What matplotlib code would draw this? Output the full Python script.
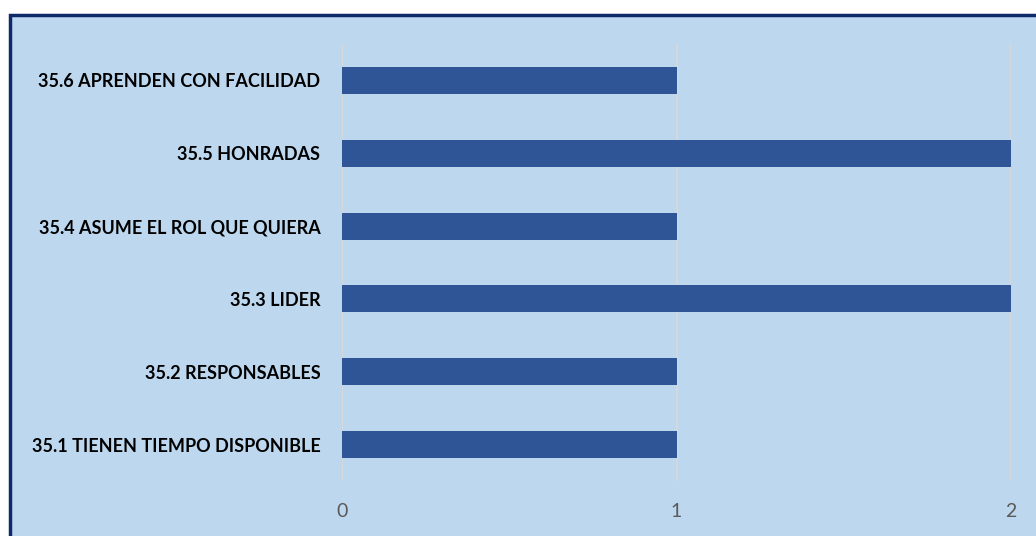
import matplotlib
matplotlib.use("Agg")
import matplotlib.pyplot as plt
from matplotlib.patches import Rectangle

categories = ["35.1 TIENEN TIEMPO DISPONIBLE", "35.2 RESPONSABLES", "35.3 LIDER",
              "35.4 ASUME EL ROL QUE QUIERA", "35.5 HONRADAS", "35.6 APRENDEN CON FACILIDAD"]
values = [1, 1, 2, 1, 2, 1]
xticks = [0, 1, 2]

fig = plt.figure(figsize=(10.36, 5.36), dpi=100)
fig.patch.set_facecolor("white")
W, H = 1036, 536
# chart area with navy border
bg = Rectangle((9.5 / W, -0.05), 1.1, (536 - 15) / H + 0.05,
               transform=fig.transFigure, facecolor="#BDD7EE",
               edgecolor="#0E2A6B", linewidth=2.5, zorder=-10)
fig.add_artist(bg)

ax = fig.add_axes([342 / W, 1 - 481 / H, (1011 - 342) / W, (481 - 44) / H])
ax.set_zorder(1)
ax.set_facecolor("none")
y = list(range(len(categories)))
ax.barh(y, values, height=0.37, color="#2F5597", zorder=3)
ax.set_xlim(0, 2)
ax.set_ylim(-0.5, len(categories) - 0.5)
ax.set_xticks(xticks)
ax.set_xticklabels([str(t) for t in xticks], fontsize=14, color="#595959", family="Lato")
ax.set_yticks(y)
ax.set_yticklabels(categories, fontsize=13, fontweight="bold", color="black", family="Lato")
ax.tick_params(axis="both", length=0)
ax.tick_params(axis="x", pad=16)
ax.tick_params(axis="y", pad=15.5)
ax.grid(axis="x", color="#D9D9D9", linewidth=1.2, zorder=1)
ax.set_axisbelow(True)
for s in ax.spines.values():
    s.set_visible(False)

fig.savefig("out.png", dpi=100)
